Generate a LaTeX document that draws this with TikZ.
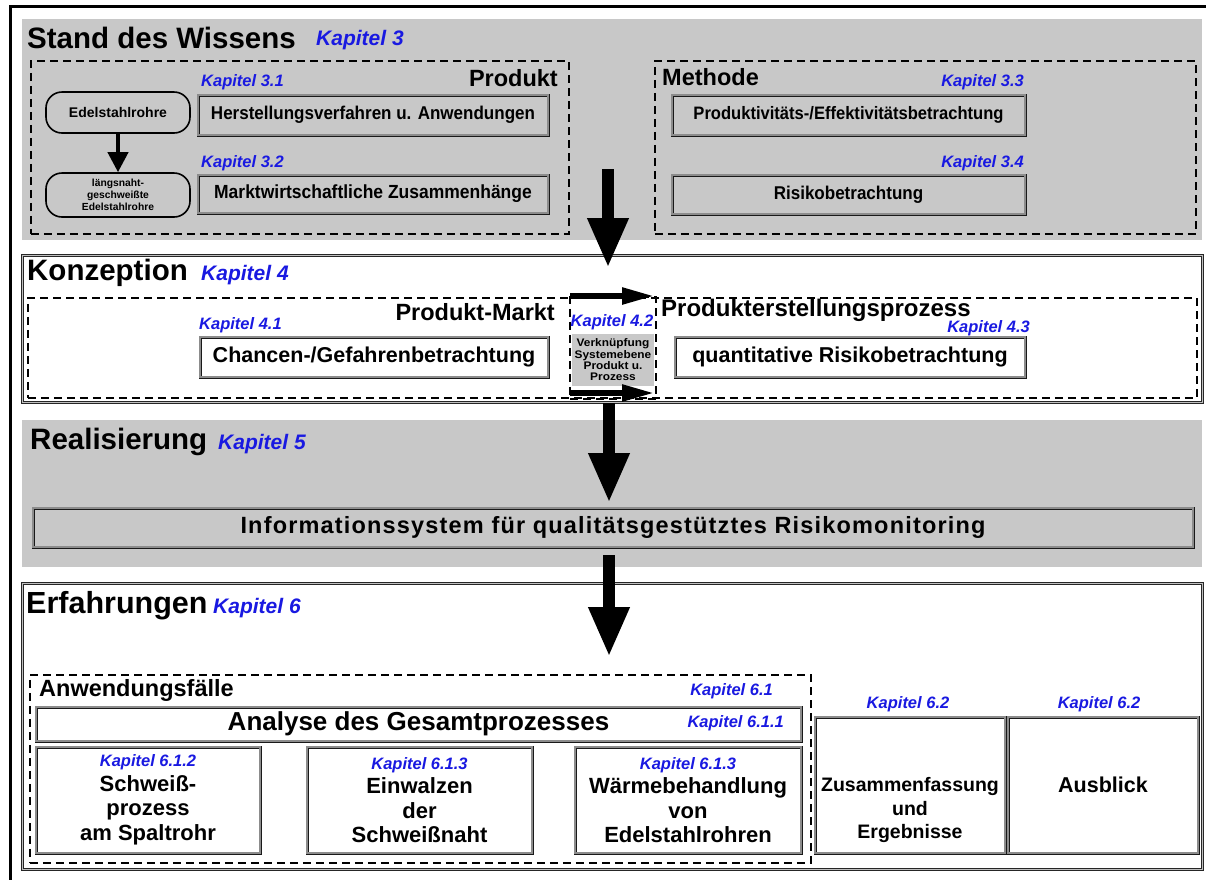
\documentclass[tikz,border=0pt]{standalone}
\usepackage{fontspec}
\setmainfont{Liberation Sans}
\newfontfamily\widefont[FakeStretch=1.08]{Liberation Sans}
\newfontfamily\narrowfont[FakeStretch=0.92]{Liberation Sans}
\newfontfamily\spacedfont[LetterSpace=5]{Liberation Sans}
\usetikzlibrary{arrows.meta}
\definecolor{kapblue}{RGB}{25,25,225}
\definecolor{pgray}{RGB}{200,200,200}
\tikzset{
  ttl/.style={font=\bfseries\fontsize{29.5}{31}\selectfont, inner sep=0, anchor=west},
  kapbig/.style={text=kapblue, font=\bfseries\itshape\fontsize{21}{23}\selectfont, inner sep=0},
  kap/.style={text=kapblue, font=\bfseries\itshape\fontsize{16.5}{18}\selectfont, inner sep=0},
  grp/.style={font=\bfseries\fontsize{23.5}{25}\selectfont, inner sep=0},
  dbox/.style={draw=black!90, double=black!45, double distance=1.1pt, line width=0.95pt, inner sep=0, align=center},
  dashbox/.style={draw, dash pattern=on 8pt off 5pt, line width=1.9pt, inner sep=0, anchor=north west},
  rbox/.style={draw, rounded corners=16pt, line width=1.6pt, align=center, inner sep=0, minimum width=144, font=\bfseries},
  gpanel/.style={fill=pgray, draw=none, inner sep=0, anchor=north west},
  wpanel/.style={fill=white, draw=black!85, double=black!25, double distance=1.2pt, line width=0.9pt, inner sep=0, anchor=north west},
  bigarrow/.style={line width=12.5pt, -{Triangle[length=50pt,width=38pt]}},
  midarrow/.style={line width=5.5pt, -{Triangle[length=32pt,width=16pt]}},
  smallarrow/.style={line width=4pt, -{Triangle[length=20pt,width=20pt]}}
}
\begin{document}
\begin{tikzpicture}[x=1pt,y=-1pt]
\useasboundingbox (0,0) rectangle (1206,879);
\clip (0,0) rectangle (1206,879);
\fill[white] (0,0) rectangle (1206,879);
% outer frame
\coordinate (fbl) at (10.5,940);
\coordinate (ftr) at (1300,6);
\draw[line width=3pt] (fbl) |- (ftr);

% ---------------- Panel 1
\node[gpanel, minimum width=1180, minimum height=221] (p1) at (22,19) {};
\node[ttl] (t1) at (27,38) {Stand des Wissens};
\node[kapbig, anchor=west] (k3) at (316,40) {Kapitel 3};
\node[dashbox, minimum width=538, minimum height=173] (produkt) at (30,60) {};
\node[grp, anchor=east] (lprodukt) at (558,78) {Produkt};
\node[kap, anchor=west] (k31) at (201,82) {Kapitel 3.1};
\node[dbox, minimum width=350, minimum height=40, font=\narrowfont\bfseries\fontsize{18.5}{20}\selectfont] (herst) at (373,115) {Herstellungsverfahren u. Anwendungen};
\node[kap, anchor=west] (k32) at (201,163) {Kapitel 3.2};
\node[dbox, minimum width=350, minimum height=38, font=\narrowfont\bfseries\fontsize{19}{20}\selectfont] (markt) at (373,194) {Marktwirtschaftliche Zusammenhänge};
\node[rbox, minimum height=41, font=\bfseries\fontsize{14}{16}\selectfont] (edel) at (118,112.5) {Edelstahlrohre};
\node[rbox, minimum height=44, font=\bfseries\fontsize{10.3}{12.3}\selectfont] (laengs) at (118,195) {längsnaht-\\geschweißte\\Edelstahlrohre};
\draw[smallarrow] (edel.south) -- (laengs.north);

\node[dashbox, minimum width=541, minimum height=173] (methode) at (654,60) {};
\node[grp, anchor=west] (lmethode) at (662,77) {Methode};
\node[kap, anchor=east] (k33) at (1024,82) {Kapitel 3.3};
\node[dbox, minimum width=353, minimum height=40, font=\narrowfont\bfseries\fontsize{18}{20}\selectfont] (prodeff) at (848.5,115) {Produktivitäts-/Effektivitätsbetrachtung};
\node[kap, anchor=east] (k34) at (1024,163) {Kapitel 3.4};
\node[dbox, minimum width=353, minimum height=39, font=\narrowfont\bfseries\fontsize{18.5}{20}\selectfont] (risiko) at (848.5,194.5) {Risikobetrachtung};

% ---------------- Panel 2
\node[wpanel, minimum width=1180, minimum height=147] (p2) at (22,255) {};
\node[ttl] (t2) at (27,273) {Konzeption};
\node[kapbig, anchor=west] (k4) at (201,275) {Kapitel 4};
\node[dashbox, minimum width=1169, minimum height=100] (konz) at (27,297) {};
\node[dashbox, minimum width=86, minimum height=102] (mid) at (569,296) {};
\node[grp, anchor=east] (lpm) at (555,312) {Produkt-Markt};
\node[grp, anchor=west, font=\bfseries\fontsize{24}{25}\selectfont] (lpep) at (661,310) {Produkterstellungsprozess};
\node[kap, anchor=west] (k41) at (199,325) {Kapitel 4.1};
\node[kap, anchor=east] (k43) at (1030,328) {Kapitel 4.3};
\node[kap] (k42) at (612,322) {Kapitel 4.2};
\node[dbox, minimum width=348, minimum height=40, font=\bfseries\fontsize{21.5}{23}\selectfont] (chancen) at (374,357) {Chancen-/Gefahrenbetrachtung};
\node[dbox, minimum width=350, minimum height=40, font=\bfseries\fontsize{21.5}{23}\selectfont] (quant) at (850,357) {quantitative Risikobetrachtung};
\node[fill=pgray, minimum width=82, minimum height=52, inner sep=0, align=center, font=\widefont\bfseries\fontsize{11}{11.3}\selectfont] (verk) at (613,360) {Verknüpfung\\Systemebene\\Produkt u.\\Prozess};
\coordinate (mta) at (570,296);
\coordinate (mtb) at (654,296);
\coordinate (mba) at (570,393);
\coordinate (mbb) at (654,393);
\draw[midarrow] (mta) -- (mtb);
\draw[midarrow] (mba) -- (mbb);

% ---------------- Panel 3
\node[gpanel, minimum width=1180, minimum height=147] (p3) at (22,420) {};
\node[ttl] (t3) at (30,442) {Realisierung};
\node[kapbig, anchor=west] (k5) at (218,444) {Kapitel 5};
\node[dbox, fill=pgray, minimum width=1160, minimum height=39, font=\spacedfont\bfseries\fontsize{23.5}{25}\selectfont] (info) at (613,527.5) {Informationssystem für qualitätsgestütztes Risikomonitoring};

% ---------------- Panel 4
\node[wpanel, minimum width=1180, minimum height=286] (p4) at (22,583) {};
\node[ttl, font=\bfseries\fontsize{30.5}{32}\selectfont] (t4) at (26,606) {Erfahrungen};
\node[kapbig, anchor=west] (k6) at (213,608) {Kapitel 6};
\node[dashbox, minimum width=781, minimum height=188] (anw) at (29,674) {};
\node[grp, anchor=west] (lanw) at (39,690) {Anwendungsfälle};
\node[kap, anchor=east] (k61) at (773,691) {Kapitel 6.1};
\node[dbox, minimum width=765, minimum height=34, font=\bfseries\fontsize{26}{28}\selectfont] (analyse) at (418.5,724) {Analyse des Gesamtprozesses};
\node[kap, anchor=east] (k611) at (784,723) {Kapitel 6.1.1};
\node[dbox, minimum width=224, minimum height=106, font=\bfseries\fontsize{22}{24.5}\selectfont] (ba) at (148,800)
  {\textcolor{kapblue}{\itshape\fontsize{16.5}{18}\selectfont Kapitel 6.1.2}\\Schweiß-\\prozess\\am Spaltrohr};
\node[dbox, minimum width=225, minimum height=106, font=\bfseries\fontsize{22}{24.5}\selectfont] (bb) at (419.5,800)
  {\textcolor{kapblue}{\itshape\fontsize{16.5}{18}\selectfont Kapitel 6.1.3}\\Einwalzen\\der\\Schweißnaht};
\node[dbox, minimum width=226, minimum height=106, font=\bfseries\fontsize{22}{24.5}\selectfont] (bc) at (688,800)
  {\textcolor{kapblue}{\itshape\fontsize{16.5}{18}\selectfont Kapitel 6.1.3}\\Wärmebehandlung\\von\\Edelstahlrohren};
\node[dbox, minimum width=190, minimum height=136] (bz) at (910,785) {};
\node[align=center, inner sep=0, font=\bfseries\fontsize{19.5}{23.5}\selectfont] (tz) at (910,810) {Zusammenfassung\\und\\Ergebnisse};
\node[kap] (k62a) at (908,704) {Kapitel 6.2};
\node[dbox, minimum width=190, minimum height=136, font=\bfseries\fontsize{21.5}{23}\selectfont] (bau) at (1103,785) {Ausblick};
\node[kap] (k62b) at (1099,704) {Kapitel 6.2};

% ---------------- big arrows
\coordinate (a1s) at (608,169);
\coordinate (a1e) at (608,268);
\coordinate (a2s) at (609,403);
\coordinate (a2e) at (609,503);
\coordinate (a3s) at (609,555);
\coordinate (a3e) at (609,657);
\draw[bigarrow] (a1s) -- (a1e);
\draw[bigarrow] (a2s) -- (a2e);
\draw[bigarrow] (a3s) -- (a3e);
\end{tikzpicture}
\end{document}
